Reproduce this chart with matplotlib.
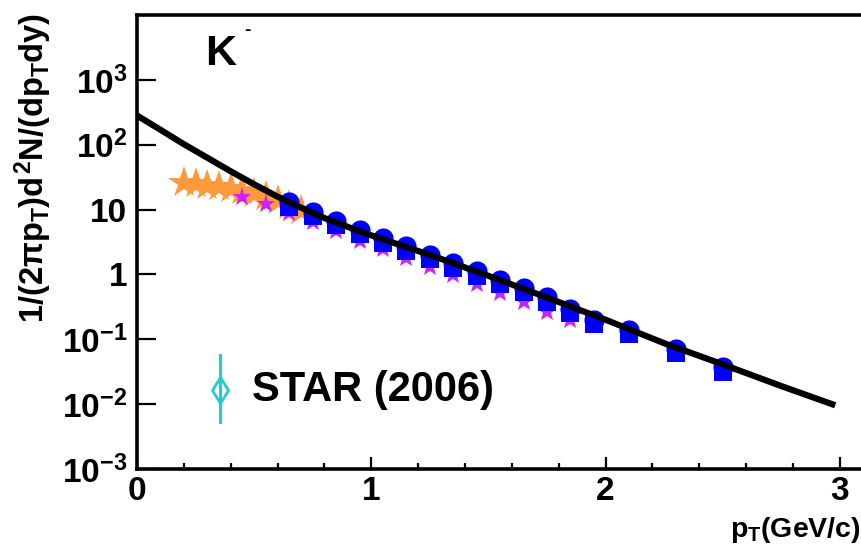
import numpy as np
import matplotlib
matplotlib.use('Agg')
import matplotlib.pyplot as plt
from matplotlib.ticker import FixedLocator, FixedFormatter, LogLocator, MultipleLocator, NullFormatter

plt.rcParams['font.family'] = ['Liberation Sans', 'DejaVu Sans']
plt.rcParams['font.weight'] = 'bold'
plt.rcParams['mathtext.fontset'] = 'custom'
plt.rcParams['mathtext.rm'] = 'Liberation Sans:bold'
plt.rcParams['mathtext.it'] = 'Liberation Sans:bold'
plt.rcParams['mathtext.bf'] = 'Liberation Sans:bold'
plt.rcParams['mathtext.sf'] = 'Liberation Sans:bold'

# orange stars (low pT)
pt_orange = [0.20, 0.25, 0.30, 0.35, 0.40, 0.45, 0.50, 0.55, 0.60, 0.65, 0.70]
y_orange = [26, 25, 23.5, 22, 20.5, 19, 17.5, 15.5, 13.5, 11.5, 9.5]

# magenta stars
pt_magenta = [0.45, 0.55, 0.65, 0.75, 0.85, 0.95, 1.05, 1.15, 1.25, 1.35, 1.45, 1.55, 1.65, 1.75, 1.85]
y_magenta = [15.8, 12.3, 8.9, 6.5, 4.6, 3.3, 2.5, 1.8, 1.3, 0.97, 0.72, 0.51, 0.37, 0.26, 0.2]

# blue circles and squares
pt_blue = [0.65, 0.75, 0.85, 0.95, 1.05, 1.15, 1.25, 1.35, 1.45, 1.55, 1.65, 1.75, 1.85, 1.95, 2.1, 2.3, 2.5]
y_circle = [13, 9.3, 6.7, 4.9, 3.6, 2.7, 2.0, 1.48, 1.12, 0.83, 0.62, 0.45, 0.29, 0.2, 0.14, 0.072, 0.037]
y_square = [11, 7.9, 5.7, 4.2, 3.1, 2.3, 1.7, 1.26, 0.95, 0.71, 0.53, 0.38, 0.25, 0.17, 0.12, 0.062, 0.031]

# fit curve
pt_fit = [0.0, 0.1, 0.2, 0.3, 0.4, 0.5, 0.6, 0.7, 0.8, 0.9, 1.0, 1.25, 1.5, 1.75, 2.0, 2.25, 2.5, 2.75, 2.98]
y_fit = [282, 170, 102, 63, 38.9, 24.5, 15.8, 10.7, 7.4, 5.4, 4.0, 2.0, 0.95, 0.44, 0.2, 0.087, 0.041, 0.019, 0.0096]

ytick_vals = [1e-3, 1e-2, 1e-1, 1, 10, 1e2, 1e3]
ytick_labels = ['$10^{-3}$', '$10^{-2}$', '$10^{-1}$', '1', '10', '$10^{2}$', '$10^{3}$']

fig = plt.figure(figsize=(8.62, 5.54), dpi=100)
ax = fig.add_axes([137/862, 85/554, 733/862, 454/554])

ax.plot(pt_orange, y_orange, '*', color='#ff9a3c', markersize=24, markeredgewidth=0, zorder=2)
ax.plot(pt_magenta, y_magenta, '*', color='#cc22ff', markersize=14, markeredgewidth=0, zorder=3)
ax.plot(pt_blue, y_square, 's', color='#0000ff', markersize=13.5, markeredgewidth=0, zorder=4)
ax.plot(pt_blue, y_circle, 'o', color='#0000ff', markersize=14.5, markeredgewidth=0, zorder=4)
ax.plot(pt_fit, y_fit, '-', color='black', linewidth=4.5, zorder=5, solid_capstyle='butt')

ax.set_yscale('log')
ax.set_xlim(0, 733/234.3)
ax.set_ylim(1e-3, 1e4)

ax.yaxis.set_major_locator(FixedLocator(ytick_vals))
ax.yaxis.set_major_formatter(FixedFormatter(ytick_labels))
ax.yaxis.set_minor_locator(LogLocator(base=10, subs=np.arange(2, 10)))
ax.yaxis.set_minor_formatter(NullFormatter())
ax.xaxis.set_major_locator(FixedLocator([0, 1, 2, 3]))
ax.xaxis.set_minor_locator(MultipleLocator(0.2))

ax.tick_params(axis='y', which='major', direction='in', length=14, width=1.6, labelsize=24, pad=7)
ax.tick_params(axis='y', which='minor', direction='in', length=7, width=1.6)
ax.tick_params(axis='x', which='major', direction='in', length=8.5, width=1.6, labelsize=24, pad=5)
ax.tick_params(axis='x', which='minor', direction='in', length=4.3, width=1.6)
ax.tick_params(top=False, right=False, which='both')
for side in ['left', 'bottom', 'top']:
    ax.spines[side].set_linewidth(2.6)
ax.spines['right'].set_visible(False)

# legend entry
ax.plot([0.113, 0.113], [0.1035, 0.251], color='#22cccc', linewidth=2.2, transform=ax.transAxes, clip_on=False)
ax.plot([0.113], [0.174], 'd', markersize=13, markerfacecolor='none', markeredgecolor='#22cccc',
        markeredgewidth=2, transform=ax.transAxes, clip_on=False)
ax.text(0.157, 0.174, 'STAR (2006)', transform=ax.transAxes, fontsize=30, fontweight='bold', va='center', ha='left')

# K- label
ax.text(0.093, 0.89, 'K', transform=ax.transAxes, fontsize=31, fontweight='bold', ha='left', va='baseline')
ax.text(0.146, 0.955, '-', transform=ax.transAxes, fontsize=14, fontweight='bold', ha='left', va='baseline')

fig.text(33/862, 1 - 168/554, r'$1/(2\pi p_{T})d^{2}N/(dp_{T}dy)$', rotation=90, fontsize=23.5,
         ha='center', va='center')
fig.text(861/862, 1 - 537/554, '$p_{T}$(GeV/c)', fontsize=20.5, ha='right', va='baseline')

fig.savefig('out.png', dpi=100)
